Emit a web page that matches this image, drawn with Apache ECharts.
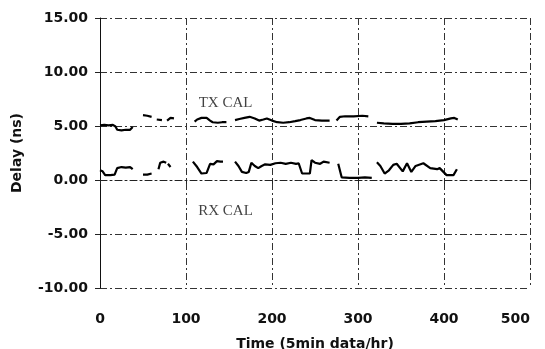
<!DOCTYPE html>
<html>
<head>
<meta charset="utf-8">
<script src="https://cdn.jsdelivr.net/npm/echarts@6/dist/echarts.min.js"></script>
<style>
  html, body { margin: 0; padding: 0; background: #fff; }
  #chart { width: 545px; height: 349px; }
</style>
</head>
<body>
<div id="chart"></div>
<script>
// time (5 min data/hr) and delay (ns); null breaks the line
const txTime = [0, 5, 10, 15, 18, 20, 25, 30, 35, 38, null,
  50, 55, 60, null,
  66, 72, null,
  78, 82, 86, null,
  110, 113, 118, 124, 128, 131, 137, 142, 147, null,
  157, 162, 168, 174, 180, 185, 190, 194, 200, 206, 213, 220, 227, 233, 240, 244, 250, 258, 267, null,
  275, 279, 285, 295, 305, 312, null,
  322, 330, 340, 350, 360, 370, 380, 390, 400, 408, 412, 416];
const txDelay = [5.05, 5.1, 5.05, 5.1, 4.95, 4.65, 4.6, 4.65, 4.65, 4.9, null,
  6.0, 5.95, 5.85, null,
  5.6, 5.55, null,
  5.5, 5.75, 5.7, null,
  5.4, 5.6, 5.75, 5.75, 5.5, 5.35, 5.3, 5.35, 5.35, null,
  5.55, 5.65, 5.75, 5.85, 5.7, 5.5, 5.6, 5.7, 5.5, 5.35, 5.3, 5.35, 5.45, 5.55, 5.7, 5.75, 5.55, 5.5, 5.5, null,
  5.5, 5.85, 5.9, 5.9, 5.95, 5.9, null,
  5.3, 5.25, 5.2, 5.2, 5.25, 5.35, 5.4, 5.45, 5.55, 5.7, 5.75, 5.6];

const rxTime = [0, 3, 6, 12, 17, 20, 25, 30, 35, 38, null,
  50, 55, 60, null,
  68, 70, 74, 77, null,
  79, 82, null,
  108, 110, 113, 118, 124, 128, 132, 136, 140, 143, null,
  157, 161, 165, 170, 173, 176, 180, 184, 188, 192, 198, 204, 210, 216, 222, 228, 231, 235, 240, 244, 246, 250, 256, 260, 267, null,
  277, 281, 290, 300, 308, 316, null,
  322, 326, 331, 336, 341, 345, 352, 357, 362, 367, 376, 384, 392, 395, 403, 411, 415];
const rxDelay = [0.9, 0.8, 0.45, 0.45, 0.5, 1.1, 1.2, 1.15, 1.2, 1.0, null,
  0.5, 0.5, 0.6, null,
  1.0, 1.6, 1.7, 1.6, null,
  1.5, 1.2, null,
  1.7, 1.85, 1.2, 0.6, 0.65, 1.5, 1.45, 1.75, 1.7, 1.7, null,
  1.7, 1.3, 0.75, 0.65, 0.75, 1.6, 1.3, 1.1, 1.3, 1.45, 1.4, 1.55, 1.6, 1.5, 1.6, 1.5, 1.55, 0.6, 0.6, 0.6, 1.85, 1.6, 1.5, 1.7, 1.6, null,
  1.5, 0.25, 0.2, 0.2, 0.25, 0.2, null,
  1.65, 1.3, 0.6, 0.9, 1.4, 1.5, 0.8, 1.55, 0.75, 1.3, 1.55, 1.1, 1.0, 1.1, 0.45, 0.45, 1.0];

const curveLabels = [[146, 7.1, "TX CAL"], [146, -2.9, "RX CAL"]];

function pairs(xs, ys) {
  return xs.map((x, i) => (x === null ? [null, null] : [x, ys[i]]));
}

const chart = echarts.init(document.getElementById("chart"));
const dashDot = [7, 3, 2, 3];
const axisFont = { fontFamily: "DejaVu Sans", fontWeight: "bold", fontSize: 14, color: "#111" };

chart.setOption({
  animation: false,
  grid: { left: 100, right: 15, top: 18, bottom: 61, outerBoundsMode: "none" },
  xAxis: {
    type: "value",
    min: 0,
    max: 500,
    interval: 100,
    name: "Time (5min data/hr)",
    nameLocation: "middle",
    nameGap: 49,
    nameTextStyle: axisFont,
    axisLine: { show: true, lineStyle: { color: "#222", width: 1, type: dashDot } },
    axisTick: { show: true, inside: false, length: 4, lineStyle: { color: "#222" } },
    axisLabel: Object.assign({ margin: 24, alignMaxLabel: "right" }, axisFont),
    splitLine: { show: true, lineStyle: { color: "#333", width: 1, type: dashDot } }
  },
  yAxis: {
    type: "value",
    min: -10,
    max: 15,
    interval: 5,
    name: "Delay (ns)",
    nameLocation: "middle",
    nameGap: 76,
    nameTextStyle: axisFont,
    axisLine: { show: true, onZero: false, lineStyle: { color: "#111", width: 1 } },
    axisTick: { show: true, inside: false, length: 5, lineStyle: { color: "#222" } },
    axisLabel: Object.assign({ margin: 12, formatter: (v) => v.toFixed(2) }, axisFont),
    splitLine: { show: true, lineStyle: { color: "#333", width: 1, type: dashDot } }
  },
  series: [
    {
      name: "TX CAL",
      type: "line",
      data: pairs(txTime, txDelay),
      showSymbol: false,
      connectNulls: false,
      lineStyle: { color: "#000", width: 2.2 }
    },
    {
      name: "RX CAL",
      type: "line",
      data: pairs(rxTime, rxDelay),
      showSymbol: false,
      connectNulls: false,
      lineStyle: { color: "#000", width: 2.2 }
    },
    {
      type: "scatter",
      data: curveLabels,
      symbolSize: 1,
      itemStyle: { color: "rgba(0,0,0,0)" },
      label: {
        show: true,
        position: "inside",
        formatter: (p) => p.value[2],
        fontFamily: "Liberation Serif",
        fontSize: 15,
        color: "#111"
      }
    }
  ]
});
</script>
</body>
</html>
